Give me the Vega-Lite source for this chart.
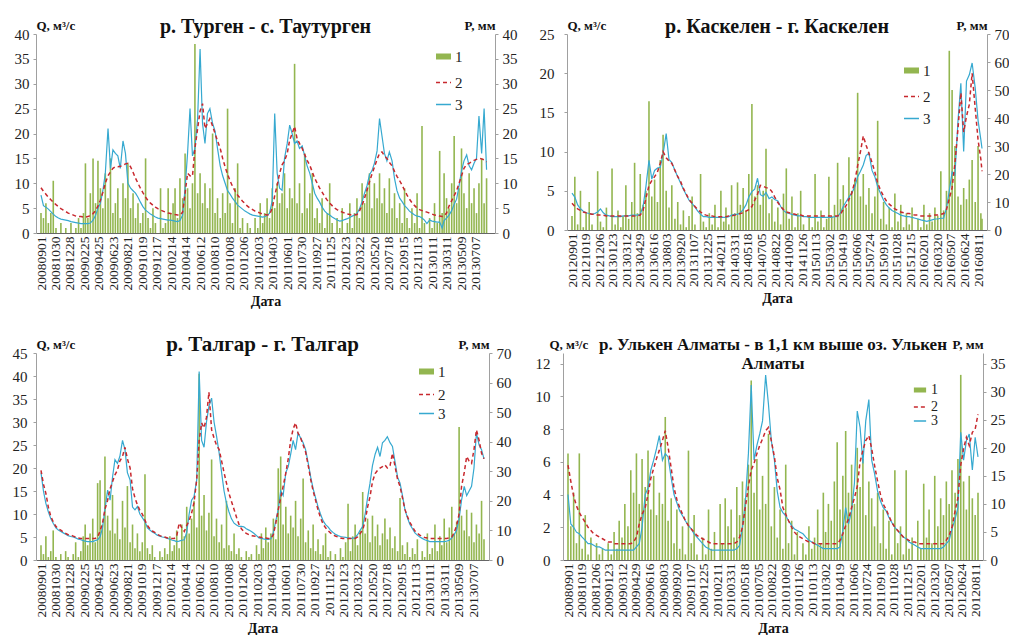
{
"$schema":"https://vega.github.io/schema/vega-lite/v6.json",
"padding":{"left":12,"top":17,"right":0,"bottom":0},
"config":{
"view":{"stroke":null},
"font":"Liberation Serif",
"title":{"font":"Liberation Serif","fontSize":20,"fontWeight":"bold","color":"#111","frame":"group","offset":-18},
"axis":{"grid":false,"labelFont":"Liberation Serif","titleFont":"Liberation Serif","labelColor":"#222","titleColor":"#111","domainColor":"#a0a0a0","tickColor":"#a0a0a0","tickSize":3,"labelFontSize":15,"labelOverlap":false},
"axisY":{"labelFont":"Liberation Serif","titleAngle":0,"titleFontWeight":"bold","titleFontSize":13,"titleBaseline":"alphabetic","titleY":-5,"labelPadding":4},
"axisLeft":{"labelFont":"Liberation Serif","titleAlign":"left","titleX":0},
"axisRight":{"labelFont":"Liberation Serif","titleAlign":"right","titleX":0},
"axisX":{"labelFont":"Liberation Serif","labelAngle":-90,"labelFontSize":13.5,"ticks":false,"domainColor":"#666","labelPadding":3,"titleFontWeight":"bold","titleFontSize":14,"titlePadding":4,"labelOverlap":false,"labelFlush":false},
"legend":{"labelFont":"Liberation Serif","labelFontSize":15,"labelColor":"#222","symbolType":"stroke","symbolSize":225}
},
"resolve":{"scale":{"color":"independent"},"legend":{"color":"independent"}},
"spacing":26,
"datasets":{
"t1":[
{"d":"2008-09-01","s":9.1,"o":7.6,"p":4},{"d":"2008-09-11","s":8.4,"o":5.5,"p":3},{"d":"2008-09-21","s":7.8,"o":5.2,"p":6},
{"d":"2008-10-01","s":7.2,"o":4.8,"p":2},{"d":"2008-10-11","s":6.7,"o":4.3,"p":4},{"d":"2008-10-21","s":6.2,"o":3.8,"p":10.5},
{"d":"2008-11-01","s":5.7,"o":3.3,"p":1},{"d":"2008-11-11","s":5.3,"o":3.0,"p":0},{"d":"2008-11-21","s":4.9,"o":2.8,"p":2},
{"d":"2008-12-01","s":4.6,"o":2.7,"p":0},{"d":"2008-12-11","s":4.3,"o":2.6,"p":1},{"d":"2008-12-21","s":4.0,"o":2.5,"p":0},
{"d":"2009-01-01","s":3.8,"o":2.3,"p":2},{"d":"2009-01-11","s":3.6,"o":2.2,"p":0},{"d":"2009-01-21","s":3.4,"o":2.1,"p":1},
{"d":"2009-02-01","s":3.3,"o":2.0,"p":3},{"d":"2009-02-11","s":3.3,"o":1.9,"p":1},{"d":"2009-02-21","s":3.2,"o":1.9,"p":4},
{"d":"2009-03-01","s":3.2,"o":1.9,"p":14},{"d":"2009-03-11","s":3.3,"o":1.9,"p":3},{"d":"2009-03-21","s":3.5,"o":2.0,"p":8},
{"d":"2009-04-01","s":3.9,"o":2.6,"p":15},{"d":"2009-04-11","s":4.5,"o":3.5,"p":6},{"d":"2009-04-21","s":5.4,"o":5.0,"p":14.5},
{"d":"2009-05-01","s":6.6,"o":6.0,"p":9},{"d":"2009-05-11","s":8.2,"o":8.5,"p":5},{"d":"2009-05-21","s":10.0,"o":12.0,"p":12},
{"d":"2009-06-01","s":11.5,"o":21.0,"p":7},{"d":"2009-06-11","s":12.3,"o":13.0,"p":15},{"d":"2009-06-21","s":13.0,"o":16.7,"p":4},
{"d":"2009-07-01","s":13.3,"o":16.0,"p":6},{"d":"2009-07-11","s":13.3,"o":15.5,"p":9},{"d":"2009-07-21","s":13.4,"o":13.0,"p":3},
{"d":"2009-08-01","s":13.6,"o":18.5,"p":10},{"d":"2009-08-11","s":13.9,"o":16.0,"p":7},{"d":"2009-08-21","s":14.0,"o":10.0,"p":14},
{"d":"2009-09-01","s":13.3,"o":9.0,"p":5},{"d":"2009-09-11","s":12.2,"o":8.5,"p":8},{"d":"2009-09-21","s":11.0,"o":8.0,"p":3},
{"d":"2009-10-01","s":10.0,"o":7.2,"p":6},{"d":"2009-10-11","s":9.0,"o":6.2,"p":2},{"d":"2009-10-21","s":8.1,"o":5.3,"p":4},
{"d":"2009-11-01","s":7.2,"o":4.6,"p":15},{"d":"2009-11-11","s":6.5,"o":4.2,"p":3},{"d":"2009-11-21","s":6.0,"o":3.8,"p":1},
{"d":"2009-12-01","s":5.6,"o":3.5,"p":5},{"d":"2009-12-11","s":5.2,"o":3.2,"p":2},{"d":"2009-12-21","s":4.9,"o":3.0,"p":0},
{"d":"2010-01-01","s":4.6,"o":2.9,"p":9},{"d":"2010-01-11","s":4.4,"o":2.8,"p":1},{"d":"2010-01-21","s":4.2,"o":2.7,"p":2},
{"d":"2010-02-01","s":4.0,"o":2.6,"p":9},{"d":"2010-02-11","s":3.9,"o":2.6,"p":4},{"d":"2010-02-21","s":3.8,"o":2.5,"p":6},
{"d":"2010-03-01","s":3.7,"o":2.4,"p":9},{"d":"2010-03-11","s":3.6,"o":2.3,"p":3},{"d":"2010-03-21","s":3.6,"o":2.5,"p":11},
{"d":"2010-04-01","s":4.2,"o":3.6,"p":7},{"d":"2010-04-11","s":8.0,"o":9.0,"p":16},{"d":"2010-04-21","s":12.0,"o":16.0,"p":9},
{"d":"2010-05-01","s":11.5,"o":25.0,"p":5},{"d":"2010-05-11","s":11.4,"o":15.5,"p":10},{"d":"2010-05-21","s":17.0,"o":17.0,"p":38},
{"d":"2010-06-01","s":21.0,"o":23.0,"p":8},{"d":"2010-06-11","s":24.5,"o":37.0,"p":12},{"d":"2010-06-21","s":26.0,"o":22.0,"p":6},
{"d":"2010-07-01","s":21.0,"o":18.0,"p":10},{"d":"2010-07-11","s":22.0,"o":24.0,"p":5},{"d":"2010-07-21","s":23.0,"o":25.0,"p":9},
{"d":"2010-08-01","s":21.5,"o":22.0,"p":20},{"d":"2010-08-11","s":20.0,"o":20.5,"p":4},{"d":"2010-08-21","s":18.5,"o":17.0,"p":7},
{"d":"2010-09-01","s":17.0,"o":13.5,"p":3},{"d":"2010-09-11","s":15.0,"o":11.5,"p":8},{"d":"2010-09-21","s":13.3,"o":10.0,"p":4},
{"d":"2010-10-01","s":11.8,"o":8.5,"p":25},{"d":"2010-10-11","s":10.5,"o":7.8,"p":6},{"d":"2010-10-21","s":9.4,"o":7.0,"p":2},
{"d":"2010-11-01","s":8.4,"o":6.3,"p":9},{"d":"2010-11-11","s":7.6,"o":5.6,"p":14},{"d":"2010-11-21","s":7.0,"o":5.2,"p":1},
{"d":"2010-12-01","s":6.4,"o":4.8,"p":3},{"d":"2010-12-11","s":5.9,"o":4.4,"p":0},{"d":"2010-12-21","s":5.4,"o":4.1,"p":2},
{"d":"2011-01-01","s":5.0,"o":3.8,"p":1},{"d":"2011-01-11","s":4.7,"o":3.6,"p":0},{"d":"2011-01-21","s":4.4,"o":3.5,"p":3},
{"d":"2011-02-01","s":4.2,"o":3.4,"p":1},{"d":"2011-02-11","s":4.0,"o":3.3,"p":6},{"d":"2011-02-21","s":3.8,"o":3.2,"p":2},
{"d":"2011-03-01","s":3.7,"o":3.3,"p":4},{"d":"2011-03-11","s":3.6,"o":3.5,"p":7},{"d":"2011-03-21","s":3.7,"o":4.0,"p":3},
{"d":"2011-04-01","s":5.0,"o":6.5,"p":9},{"d":"2011-04-11","s":7.5,"o":24.0,"p":5},{"d":"2011-04-21","s":9.6,"o":12.0,"p":10},
{"d":"2011-05-01","s":12.0,"o":9.0,"p":6},{"d":"2011-05-11","s":13.7,"o":8.6,"p":8},{"d":"2011-05-21","s":14.5,"o":15.0,"p":12},
{"d":"2011-06-01","s":16.0,"o":18.0,"p":5},{"d":"2011-06-11","s":18.7,"o":21.7,"p":9},{"d":"2011-06-21","s":20.0,"o":20.0,"p":7},
{"d":"2011-07-01","s":21.4,"o":18.0,"p":34},{"d":"2011-07-11","s":19.0,"o":18.5,"p":6},{"d":"2011-07-21","s":18.0,"o":17.0,"p":10},
{"d":"2011-08-01","s":17.0,"o":17.5,"p":4},{"d":"2011-08-11","s":15.8,"o":15.5,"p":16},{"d":"2011-08-21","s":14.6,"o":13.5,"p":5},
{"d":"2011-09-01","s":13.6,"o":12.0,"p":8},{"d":"2011-09-11","s":12.3,"o":10.0,"p":12},{"d":"2011-09-21","s":11.0,"o":8.0,"p":3},
{"d":"2011-10-01","s":10.0,"o":7.0,"p":5},{"d":"2011-10-11","s":9.0,"o":6.2,"p":2},{"d":"2011-10-21","s":8.2,"o":5.2,"p":7},
{"d":"2011-11-01","s":7.3,"o":4.4,"p":1},{"d":"2011-11-11","s":6.6,"o":3.9,"p":4},{"d":"2011-11-21","s":6.0,"o":3.6,"p":10},
{"d":"2011-12-01","s":5.5,"o":3.2,"p":2},{"d":"2011-12-11","s":5.0,"o":2.9,"p":0},{"d":"2011-12-21","s":4.7,"o":2.6,"p":3},
{"d":"2012-01-01","s":4.4,"o":2.4,"p":1},{"d":"2012-01-11","s":4.2,"o":2.5,"p":5},{"d":"2012-01-21","s":4.0,"o":2.7,"p":0},
{"d":"2012-02-01","s":3.8,"o":2.9,"p":2},{"d":"2012-02-11","s":3.7,"o":3.1,"p":6},{"d":"2012-02-21","s":3.6,"o":3.4,"p":1},
{"d":"2012-03-01","s":3.6,"o":3.6,"p":4},{"d":"2012-03-11","s":3.7,"o":3.9,"p":7},{"d":"2012-03-21","s":4.4,"o":4.8,"p":3},
{"d":"2012-04-01","s":5.6,"o":6.3,"p":10},{"d":"2012-04-11","s":7.0,"o":8.0,"p":6},{"d":"2012-04-21","s":8.6,"o":9.5,"p":9},
{"d":"2012-05-01","s":10.3,"o":11.7,"p":12},{"d":"2012-05-11","s":11.8,"o":12.5,"p":5},{"d":"2012-05-21","s":13.2,"o":14.0,"p":10},
{"d":"2012-06-01","s":14.8,"o":16.5,"p":7},{"d":"2012-06-11","s":16.0,"o":23.0,"p":12},{"d":"2012-06-21","s":16.3,"o":19.5,"p":6},
{"d":"2012-07-01","s":15.5,"o":16.0,"p":9},{"d":"2012-07-11","s":15.0,"o":14.5,"p":4},{"d":"2012-07-21","s":14.2,"o":16.3,"p":11},
{"d":"2012-08-01","s":13.5,"o":14.5,"p":5},{"d":"2012-08-11","s":12.4,"o":11.0,"p":8},{"d":"2012-08-21","s":11.4,"o":8.5,"p":3},
{"d":"2012-09-01","s":10.5,"o":7.0,"p":6},{"d":"2012-09-11","s":9.6,"o":6.3,"p":2},{"d":"2012-09-21","s":8.6,"o":5.5,"p":9},
{"d":"2012-10-01","s":7.6,"o":5.0,"p":3},{"d":"2012-10-11","s":6.8,"o":4.4,"p":1},{"d":"2012-10-21","s":6.1,"o":4.0,"p":5},
{"d":"2012-11-01","s":5.5,"o":3.6,"p":2},{"d":"2012-11-11","s":5.0,"o":3.4,"p":8},{"d":"2012-11-21","s":4.7,"o":3.3,"p":1},
{"d":"2012-12-01","s":4.5,"o":3.0,"p":21.5},{"d":"2012-12-11","s":4.3,"o":2.6,"p":2},{"d":"2012-12-21","s":4.2,"o":1.9,"p":0},
{"d":"2013-01-01","s":4.0,"o":2.6,"p":3},{"d":"2013-01-11","s":3.8,"o":2.4,"p":1},{"d":"2013-01-21","s":3.6,"o":2.3,"p":6},
{"d":"2013-02-01","s":3.5,"o":2.2,"p":2},{"d":"2013-02-11","s":3.4,"o":2.2,"p":16.5},{"d":"2013-02-21","s":3.3,"o":1.0,"p":4},
{"d":"2013-03-01","s":3.4,"o":2.5,"p":12},{"d":"2013-03-11","s":4.0,"o":3.0,"p":7},{"d":"2013-03-21","s":5.4,"o":3.6,"p":5},
{"d":"2013-04-01","s":6.5,"o":4.5,"p":10},{"d":"2013-04-11","s":7.5,"o":5.8,"p":19.5},{"d":"2013-04-21","s":8.5,"o":6.8,"p":6},
{"d":"2013-05-01","s":10.0,"o":9.5,"p":9},{"d":"2013-05-11","s":11.5,"o":12.5,"p":17},{"d":"2013-05-21","s":13.0,"o":14.5,"p":8},
{"d":"2013-06-01","s":13.8,"o":15.7,"p":5},{"d":"2013-06-11","s":14.0,"o":13.5,"p":12},{"d":"2013-06-21","s":14.3,"o":12.7,"p":6},
{"d":"2013-07-01","s":14.6,"o":14.0,"p":9},{"d":"2013-07-11","s":14.8,"o":15.0,"p":4},{"d":"2013-07-21","s":15.0,"o":23.5,"p":10},
{"d":"2013-08-01","s":14.9,"o":16.0,"p":15},{"d":"2013-08-11","s":14.7,"o":25.0,"p":6},{"d":"2013-08-21","s":14.3,"o":12.7,"p":11}
],
"t2":[
{"d":"2012-09-01","s":3.4,"o":4.7,"p":5},{"d":"2012-09-11","s":3.0,"o":4.2,"p":19},{"d":"2012-09-21","s":2.7,"o":3.2,"p":2},
{"d":"2012-10-01","s":2.5,"o":2.7,"p":14},{"d":"2012-10-11","s":2.3,"o":2.4,"p":1},{"d":"2012-10-21","s":2.2,"o":2.2,"p":6},
{"d":"2012-11-01","s":2.1,"o":2.1,"p":10},{"d":"2012-11-11","s":2.0,"o":2.0,"p":2},{"d":"2012-11-21","s":2.0,"o":2.1,"p":0},
{"d":"2012-12-01","s":1.9,"o":2.3,"p":21},{"d":"2012-12-11","s":1.9,"o":2.7,"p":3},{"d":"2012-12-21","s":1.9,"o":2.2,"p":1},
{"d":"2013-01-01","s":1.8,"o":1.9,"p":8},{"d":"2013-01-11","s":1.8,"o":1.8,"p":0},{"d":"2013-01-21","s":1.8,"o":1.7,"p":22},
{"d":"2013-02-01","s":1.8,"o":1.7,"p":2},{"d":"2013-02-11","s":1.8,"o":1.7,"p":7},{"d":"2013-02-21","s":1.8,"o":1.7,"p":1},
{"d":"2013-03-01","s":1.8,"o":1.8,"p":5},{"d":"2013-03-11","s":1.8,"o":1.8,"p":16},{"d":"2013-03-21","s":1.8,"o":1.8,"p":4},
{"d":"2013-04-01","s":1.8,"o":1.9,"p":10},{"d":"2013-04-11","s":1.8,"o":1.9,"p":24},{"d":"2013-04-21","s":1.8,"o":1.9,"p":6},
{"d":"2013-05-01","s":1.9,"o":2.0,"p":20},{"d":"2013-05-11","s":2.5,"o":3.0,"p":9},{"d":"2013-05-21","s":4.0,"o":5.5,"p":14},
{"d":"2013-06-01","s":5.7,"o":8.9,"p":46},{"d":"2013-06-11","s":6.3,"o":6.5,"p":12},{"d":"2013-06-21","s":6.8,"o":7.6,"p":18},
{"d":"2013-07-01","s":7.4,"o":7.9,"p":10},{"d":"2013-07-11","s":8.5,"o":8.0,"p":25},{"d":"2013-07-21","s":10.0,"o":9.7,"p":34},
{"d":"2013-08-01","s":9.2,"o":12.3,"p":14},{"d":"2013-08-11","s":8.8,"o":9.0,"p":8},{"d":"2013-08-21","s":8.5,"o":8.6,"p":16},
{"d":"2013-09-01","s":7.6,"o":7.6,"p":4},{"d":"2013-09-11","s":6.8,"o":6.8,"p":10},{"d":"2013-09-21","s":6.2,"o":6.0,"p":2},
{"d":"2013-10-01","s":5.3,"o":5.2,"p":7},{"d":"2013-10-11","s":4.6,"o":4.5,"p":1},{"d":"2013-10-21","s":3.9,"o":3.8,"p":5},
{"d":"2013-11-01","s":3.4,"o":3.4,"p":12},{"d":"2013-11-11","s":3.0,"o":2.9,"p":2},{"d":"2013-11-21","s":2.6,"o":2.4,"p":0},
{"d":"2013-12-01","s":2.3,"o":2.0,"p":20},{"d":"2013-12-11","s":2.0,"o":1.7,"p":3},{"d":"2013-12-21","s":1.9,"o":1.7,"p":1},
{"d":"2014-01-01","s":1.8,"o":1.6,"p":6},{"d":"2014-01-11","s":1.8,"o":1.6,"p":2},{"d":"2014-01-21","s":1.7,"o":1.6,"p":9},
{"d":"2014-02-01","s":1.7,"o":1.6,"p":1},{"d":"2014-02-11","s":1.7,"o":1.6,"p":14},{"d":"2014-02-21","s":1.7,"o":1.6,"p":3},
{"d":"2014-03-01","s":1.7,"o":1.6,"p":8},{"d":"2014-03-11","s":1.8,"o":1.7,"p":2},{"d":"2014-03-21","s":1.8,"o":1.9,"p":16},
{"d":"2014-04-01","s":1.9,"o":2.0,"p":6},{"d":"2014-04-11","s":2.0,"o":2.0,"p":17},{"d":"2014-04-21","s":2.1,"o":2.2,"p":9},
{"d":"2014-05-01","s":2.2,"o":2.6,"p":15},{"d":"2014-05-11","s":2.4,"o":3.2,"p":7},{"d":"2014-05-21","s":2.6,"o":4.2,"p":20},
{"d":"2014-06-01","s":3.0,"o":4.9,"p":45},{"d":"2014-06-11","s":3.8,"o":5.2,"p":12},{"d":"2014-06-21","s":4.6,"o":6.6,"p":16},
{"d":"2014-07-01","s":5.7,"o":4.5,"p":9},{"d":"2014-07-11","s":5.6,"o":4.3,"p":14},{"d":"2014-07-21","s":5.4,"o":4.8,"p":29},
{"d":"2014-08-01","s":5.3,"o":4.0,"p":6},{"d":"2014-08-11","s":4.9,"o":4.2,"p":11},{"d":"2014-08-21","s":4.2,"o":3.9,"p":3},
{"d":"2014-09-01","s":3.5,"o":3.7,"p":8},{"d":"2014-09-11","s":3.0,"o":3.0,"p":2},{"d":"2014-09-21","s":2.6,"o":2.5,"p":13},
{"d":"2014-10-01","s":2.3,"o":2.2,"p":22},{"d":"2014-10-11","s":2.2,"o":2.1,"p":4},{"d":"2014-10-21","s":2.1,"o":2.0,"p":12},
{"d":"2014-11-01","s":2.0,"o":1.9,"p":1},{"d":"2014-11-11","s":1.9,"o":1.8,"p":6},{"d":"2014-11-21","s":1.9,"o":1.8,"p":14},
{"d":"2014-12-01","s":1.8,"o":1.7,"p":2},{"d":"2014-12-11","s":1.8,"o":1.7,"p":0},{"d":"2014-12-21","s":1.8,"o":1.6,"p":5},
{"d":"2015-01-01","s":1.8,"o":1.6,"p":1},{"d":"2015-01-11","s":1.8,"o":1.6,"p":20},{"d":"2015-01-21","s":1.8,"o":1.6,"p":3},
{"d":"2015-02-01","s":1.8,"o":1.6,"p":7},{"d":"2015-02-11","s":1.8,"o":1.6,"p":1},{"d":"2015-02-21","s":1.8,"o":1.6,"p":4},
{"d":"2015-03-01","s":1.8,"o":1.6,"p":19},{"d":"2015-03-11","s":1.8,"o":1.6,"p":5},{"d":"2015-03-21","s":1.8,"o":1.7,"p":9},
{"d":"2015-04-01","s":1.8,"o":1.7,"p":24},{"d":"2015-04-11","s":2.0,"o":2.2,"p":11},{"d":"2015-04-21","s":2.6,"o":3.0,"p":16},
{"d":"2015-05-01","s":3.1,"o":3.6,"p":8},{"d":"2015-05-11","s":3.9,"o":4.2,"p":26},{"d":"2015-05-21","s":4.7,"o":4.7,"p":14},
{"d":"2015-06-01","s":6.2,"o":5.5,"p":18},{"d":"2015-06-11","s":8.2,"o":6.8,"p":49},{"d":"2015-06-21","s":10.0,"o":7.5,"p":12},
{"d":"2015-07-01","s":12.0,"o":8.3,"p":20},{"d":"2015-07-11","s":10.8,"o":9.5,"p":9},{"d":"2015-07-21","s":9.8,"o":9.8,"p":15},
{"d":"2015-08-01","s":8.6,"o":7.6,"p":6},{"d":"2015-08-11","s":7.4,"o":6.8,"p":12},{"d":"2015-08-21","s":6.0,"o":5.5,"p":39},
{"d":"2015-09-01","s":5.0,"o":4.6,"p":4},{"d":"2015-09-11","s":4.3,"o":3.8,"p":10},{"d":"2015-09-21","s":3.7,"o":3.2,"p":2},
{"d":"2015-10-01","s":3.3,"o":2.8,"p":8},{"d":"2015-10-11","s":3.0,"o":2.5,"p":1},{"d":"2015-10-21","s":2.7,"o":2.3,"p":13},
{"d":"2015-11-01","s":2.5,"o":2.1,"p":3},{"d":"2015-11-11","s":2.3,"o":1.9,"p":9},{"d":"2015-11-21","s":2.2,"o":1.8,"p":1},
{"d":"2015-12-01","s":2.1,"o":1.7,"p":6},{"d":"2015-12-11","s":2.1,"o":1.7,"p":2},{"d":"2015-12-21","s":2.0,"o":1.6,"p":8},
{"d":"2016-01-01","s":1.9,"o":1.5,"p":0},{"d":"2016-01-11","s":1.9,"o":1.4,"p":4},{"d":"2016-01-21","s":1.8,"o":1.3,"p":1},
{"d":"2016-02-01","s":1.8,"o":1.2,"p":9},{"d":"2016-02-11","s":1.8,"o":1.1,"p":2},{"d":"2016-02-21","s":1.8,"o":1.2,"p":6},
{"d":"2016-03-01","s":1.8,"o":1.3,"p":3},{"d":"2016-03-11","s":1.9,"o":1.4,"p":8},{"d":"2016-03-21","s":1.9,"o":1.4,"p":5},
{"d":"2016-04-01","s":2.0,"o":1.5,"p":21},{"d":"2016-04-11","s":2.1,"o":1.5,"p":7},{"d":"2016-04-21","s":2.6,"o":2.8,"p":14},
{"d":"2016-05-01","s":4.0,"o":5.0,"p":64},{"d":"2016-05-11","s":5.4,"o":7.4,"p":50},{"d":"2016-05-21","s":8.5,"o":7.0,"p":30},
{"d":"2016-06-01","s":13.0,"o":14.0,"p":12},{"d":"2016-06-11","s":17.5,"o":18.7,"p":9},{"d":"2016-06-21","s":12.5,"o":10.0,"p":15},
{"d":"2016-07-01","s":14.5,"o":19.0,"p":11},{"d":"2016-07-11","s":16.0,"o":19.8,"p":18},{"d":"2016-07-21","s":20.0,"o":21.3,"p":25},
{"d":"2016-08-01","s":15.5,"o":18.1,"p":10},{"d":"2016-08-11","s":11.5,"o":14.0,"p":30},{"d":"2016-08-21","s":9.0,"o":11.5,"p":6},
{"d":"2016-08-25","s":7.5,"o":10.4,"p":4}
],
"t3":[
{"d":"2008-09-01","s":19.5,"o":19.0,"p":5},{"d":"2008-09-11","s":16.5,"o":15.0,"p":2},{"d":"2008-09-21","s":14.5,"o":12.3,"p":8},
{"d":"2008-10-01","s":11.5,"o":10.5,"p":1},{"d":"2008-10-11","s":9.5,"o":9.0,"p":3},{"d":"2008-10-21","s":8.3,"o":8.0,"p":10},
{"d":"2008-11-01","s":7.3,"o":7.0,"p":1},{"d":"2008-11-11","s":6.8,"o":6.5,"p":0},{"d":"2008-11-21","s":6.5,"o":6.2,"p":2},
{"d":"2008-12-01","s":6.1,"o":5.9,"p":0},{"d":"2008-12-11","s":5.8,"o":5.6,"p":3},{"d":"2008-12-21","s":5.5,"o":5.3,"p":1},
{"d":"2009-01-01","s":5.4,"o":5.1,"p":0},{"d":"2009-01-11","s":5.2,"o":5.0,"p":2},{"d":"2009-01-21","s":5.0,"o":4.8,"p":6},
{"d":"2009-02-01","s":4.8,"o":4.5,"p":1},{"d":"2009-02-11","s":4.7,"o":4.4,"p":3},{"d":"2009-02-21","s":4.7,"o":4.2,"p":8},
{"d":"2009-03-01","s":4.7,"o":4.1,"p":12},{"d":"2009-03-11","s":4.7,"o":4.0,"p":5},{"d":"2009-03-21","s":4.7,"o":4.0,"p":9},
{"d":"2009-04-01","s":4.7,"o":4.0,"p":14},{"d":"2009-04-11","s":4.7,"o":4.2,"p":6},{"d":"2009-04-21","s":5.0,"o":4.4,"p":26},
{"d":"2009-05-01","s":6.3,"o":5.0,"p":27},{"d":"2009-05-11","s":8.0,"o":7.0,"p":12},{"d":"2009-05-21","s":11.0,"o":11.0,"p":35},
{"d":"2009-06-01","s":13.0,"o":15.2,"p":15},{"d":"2009-06-11","s":15.5,"o":13.0,"p":10},{"d":"2009-06-21","s":17.0,"o":18.0,"p":22},
{"d":"2009-07-01","s":18.5,"o":21.8,"p":9},{"d":"2009-07-11","s":19.5,"o":21.0,"p":14},{"d":"2009-07-21","s":21.5,"o":22.5,"p":7},
{"d":"2009-08-01","s":22.5,"o":26.0,"p":20},{"d":"2009-08-11","s":24.5,"o":24.0,"p":11},{"d":"2009-08-21","s":22.0,"o":19.0,"p":25},
{"d":"2009-09-01","s":20.0,"o":17.4,"p":6},{"d":"2009-09-11","s":15.5,"o":11.5,"p":12},{"d":"2009-09-21","s":13.5,"o":10.9,"p":4},
{"d":"2009-10-01","s":12.0,"o":11.6,"p":9},{"d":"2009-10-11","s":10.8,"o":10.0,"p":3},{"d":"2009-10-21","s":10.0,"o":9.2,"p":6},
{"d":"2009-11-01","s":8.6,"o":8.3,"p":29},{"d":"2009-11-11","s":7.5,"o":7.0,"p":4},{"d":"2009-11-21","s":6.8,"o":6.5,"p":2},
{"d":"2009-12-01","s":6.3,"o":6.1,"p":5},{"d":"2009-12-11","s":6.0,"o":5.8,"p":1},{"d":"2009-12-21","s":5.6,"o":5.4,"p":0},
{"d":"2010-01-01","s":5.3,"o":5.2,"p":3},{"d":"2010-01-11","s":5.1,"o":5.0,"p":1},{"d":"2010-01-21","s":5.0,"o":4.9,"p":4},
{"d":"2010-02-01","s":4.8,"o":4.7,"p":2},{"d":"2010-02-11","s":4.7,"o":4.5,"p":8},{"d":"2010-02-21","s":4.7,"o":4.3,"p":3},
{"d":"2010-03-01","s":4.7,"o":4.2,"p":5},{"d":"2010-03-11","s":5.2,"o":4.0,"p":10},{"d":"2010-03-21","s":8.0,"o":4.1,"p":4},
{"d":"2010-04-01","s":7.0,"o":4.3,"p":12},{"d":"2010-04-11","s":6.2,"o":4.4,"p":8},{"d":"2010-04-21","s":7.5,"o":6.0,"p":18},
{"d":"2010-05-01","s":8.5,"o":10.0,"p":9},{"d":"2010-05-11","s":10.2,"o":13.0,"p":14},{"d":"2010-05-21","s":12.5,"o":13.8,"p":20},
{"d":"2010-06-01","s":17.5,"o":17.4,"p":11},{"d":"2010-06-11","s":26.0,"o":41.0,"p":63},{"d":"2010-06-21","s":29.8,"o":26.0,"p":15},
{"d":"2010-07-01","s":28.7,"o":24.5,"p":22},{"d":"2010-07-11","s":31.0,"o":30.0,"p":10},{"d":"2010-07-21","s":36.5,"o":33.4,"p":16},
{"d":"2010-08-01","s":28.3,"o":35.2,"p":34},{"d":"2010-08-11","s":26.5,"o":30.0,"p":8},{"d":"2010-08-21","s":25.0,"o":27.0,"p":14},
{"d":"2010-09-01","s":24.0,"o":23.2,"p":6},{"d":"2010-09-11","s":21.5,"o":19.0,"p":12},{"d":"2010-09-21","s":19.0,"o":15.0,"p":4},
{"d":"2010-10-01","s":16.7,"o":12.3,"p":20},{"d":"2010-10-11","s":14.5,"o":10.5,"p":5},{"d":"2010-10-21","s":12.8,"o":9.0,"p":3},
{"d":"2010-11-01","s":11.0,"o":8.0,"p":9},{"d":"2010-11-11","s":9.3,"o":7.6,"p":2},{"d":"2010-11-21","s":7.8,"o":7.3,"p":4},
{"d":"2010-12-01","s":6.8,"o":7.3,"p":1},{"d":"2010-12-11","s":6.2,"o":7.2,"p":0},{"d":"2010-12-21","s":5.8,"o":6.8,"p":3},
{"d":"2011-01-01","s":5.5,"o":6.5,"p":1},{"d":"2011-01-11","s":5.3,"o":6.2,"p":2},{"d":"2011-01-21","s":5.2,"o":5.8,"p":0},
{"d":"2011-02-01","s":5.1,"o":5.3,"p":5},{"d":"2011-02-11","s":5.0,"o":4.8,"p":2},{"d":"2011-02-21","s":4.9,"o":4.7,"p":9},
{"d":"2011-03-01","s":4.8,"o":4.6,"p":4},{"d":"2011-03-11","s":4.8,"o":4.5,"p":11},{"d":"2011-03-21","s":4.7,"o":4.5,"p":6},
{"d":"2011-04-01","s":4.7,"o":4.6,"p":9},{"d":"2011-04-11","s":5.5,"o":6.0,"p":14},{"d":"2011-04-21","s":8.0,"o":8.5,"p":7},
{"d":"2011-05-01","s":10.9,"o":11.0,"p":31},{"d":"2011-05-11","s":13.5,"o":15.0,"p":35},{"d":"2011-05-21","s":16.0,"o":14.0,"p":12},
{"d":"2011-06-01","s":18.9,"o":19.0,"p":18},{"d":"2011-06-11","s":22.0,"o":20.3,"p":9},{"d":"2011-06-21","s":26.0,"o":23.0,"p":15},
{"d":"2011-07-01","s":28.5,"o":26.0,"p":11},{"d":"2011-07-11","s":29.8,"o":24.0,"p":20},{"d":"2011-07-21","s":27.6,"o":27.6,"p":8},
{"d":"2011-08-01","s":26.5,"o":26.5,"p":14},{"d":"2011-08-11","s":25.0,"o":25.5,"p":27.6},{"d":"2011-08-21","s":23.5,"o":24.0,"p":6},
{"d":"2011-09-01","s":20.5,"o":21.0,"p":10},{"d":"2011-09-11","s":17.5,"o":18.0,"p":4},{"d":"2011-09-21","s":15.0,"o":15.5,"p":12},
{"d":"2011-10-01","s":13.0,"o":13.5,"p":3},{"d":"2011-10-11","s":10.9,"o":11.6,"p":7},{"d":"2011-10-21","s":9.2,"o":10.0,"p":2},
{"d":"2011-11-01","s":7.8,"o":8.5,"p":5},{"d":"2011-11-11","s":7.0,"o":7.7,"p":9},{"d":"2011-11-21","s":6.4,"o":7.2,"p":1},
{"d":"2011-12-01","s":5.9,"o":6.5,"p":3},{"d":"2011-12-11","s":5.5,"o":6.0,"p":0},{"d":"2011-12-21","s":5.2,"o":5.6,"p":2},
{"d":"2012-01-01","s":5.0,"o":5.3,"p":0},{"d":"2012-01-11","s":4.8,"o":5.1,"p":4},{"d":"2012-01-21","s":4.7,"o":5.0,"p":1},
{"d":"2012-02-01","s":4.7,"o":4.9,"p":6},{"d":"2012-02-11","s":4.7,"o":4.8,"p":19},{"d":"2012-02-21","s":4.7,"o":4.7,"p":3},
{"d":"2012-03-01","s":4.7,"o":4.7,"p":8},{"d":"2012-03-11","s":4.7,"o":4.9,"p":12},{"d":"2012-03-21","s":5.0,"o":5.5,"p":5},
{"d":"2012-04-01","s":5.8,"o":6.5,"p":10},{"d":"2012-04-11","s":6.5,"o":7.3,"p":23},{"d":"2012-04-21","s":8.5,"o":10.0,"p":9},
{"d":"2012-05-01","s":11.5,"o":13.5,"p":14},{"d":"2012-05-11","s":13.8,"o":16.7,"p":6},{"d":"2012-05-21","s":17.0,"o":20.5,"p":15},
{"d":"2012-06-01","s":18.8,"o":23.0,"p":8},{"d":"2012-06-11","s":19.5,"o":24.5,"p":12},{"d":"2012-06-21","s":20.0,"o":22.5,"p":5},
{"d":"2012-07-01","s":20.3,"o":25.5,"p":9},{"d":"2012-07-11","s":20.7,"o":26.0,"p":14},{"d":"2012-07-21","s":20.0,"o":26.8,"p":7},
{"d":"2012-08-01","s":20.5,"o":25.5,"p":11},{"d":"2012-08-11","s":23.2,"o":24.7,"p":4},{"d":"2012-08-21","s":20.5,"o":21.5,"p":8},
{"d":"2012-09-01","s":17.5,"o":18.0,"p":3},{"d":"2012-09-11","s":16.0,"o":16.7,"p":21},{"d":"2012-09-21","s":13.5,"o":14.0,"p":5},
{"d":"2012-10-01","s":11.0,"o":11.0,"p":2},{"d":"2012-10-11","s":9.5,"o":9.2,"p":6},{"d":"2012-10-21","s":8.2,"o":7.8,"p":1},
{"d":"2012-11-01","s":7.2,"o":6.8,"p":4},{"d":"2012-11-11","s":6.3,"o":5.9,"p":2},{"d":"2012-11-21","s":5.8,"o":5.4,"p":7},
{"d":"2012-12-01","s":5.4,"o":5.0,"p":0},{"d":"2012-12-11","s":5.1,"o":4.7,"p":3},{"d":"2012-12-21","s":4.9,"o":4.4,"p":1},
{"d":"2013-01-01","s":4.8,"o":4.2,"p":9},{"d":"2013-01-11","s":4.7,"o":4.0,"p":2},{"d":"2013-01-21","s":4.7,"o":4.0,"p":4},
{"d":"2013-02-01","s":4.7,"o":4.0,"p":12},{"d":"2013-02-11","s":4.7,"o":4.0,"p":3},{"d":"2013-02-21","s":4.7,"o":4.0,"p":8},
{"d":"2013-03-01","s":4.7,"o":4.0,"p":5},{"d":"2013-03-11","s":4.7,"o":4.0,"p":14},{"d":"2013-03-21","s":4.7,"o":4.1,"p":6},
{"d":"2013-04-01","s":4.8,"o":4.3,"p":11},{"d":"2013-04-11","s":5.0,"o":4.8,"p":18},{"d":"2013-04-21","s":6.0,"o":5.5,"p":9},
{"d":"2013-05-01","s":7.5,"o":6.5,"p":13},{"d":"2013-05-11","s":10.0,"o":9.0,"p":45},{"d":"2013-05-21","s":16.0,"o":13.0,"p":15},
{"d":"2013-06-01","s":19.0,"o":16.0,"p":10},{"d":"2013-06-11","s":22.5,"o":14.0,"p":17},{"d":"2013-06-21","s":21.5,"o":15.0,"p":8},
{"d":"2013-07-01","s":21.0,"o":16.0,"p":16},{"d":"2013-07-11","s":24.0,"o":20.0,"p":6},{"d":"2013-07-21","s":28.3,"o":27.6,"p":12},
{"d":"2013-08-01","s":26.0,"o":25.0,"p":9},{"d":"2013-08-11","s":23.2,"o":24.0,"p":20},{"d":"2013-08-21","s":22.0,"o":22.0,"p":7}
],
"t4":[
{"d":"2008-09-01","s":5.8,"o":4.0,"p":19},{"d":"2008-09-11","s":4.8,"o":2.2,"p":6},{"d":"2008-09-21","s":3.9,"o":2.0,"p":12},
{"d":"2008-10-01","s":3.3,"o":1.7,"p":3},{"d":"2008-10-11","s":2.9,"o":1.6,"p":19},{"d":"2008-10-21","s":2.6,"o":1.4,"p":2},
{"d":"2008-11-01","s":2.3,"o":1.2,"p":8},{"d":"2008-11-11","s":2.0,"o":1.0,"p":1},{"d":"2008-11-21","s":1.8,"o":1.0,"p":4},
{"d":"2008-12-01","s":1.6,"o":0.9,"p":0},{"d":"2008-12-11","s":1.5,"o":0.8,"p":3},{"d":"2008-12-21","s":1.4,"o":0.8,"p":1},
{"d":"2009-01-01","s":1.3,"o":0.7,"p":2},{"d":"2009-01-11","s":1.2,"o":0.6,"p":0},{"d":"2009-01-21","s":1.1,"o":0.6,"p":3},
{"d":"2009-02-01","s":1.1,"o":0.6,"p":1},{"d":"2009-02-11","s":1.0,"o":0.6,"p":5},{"d":"2009-02-21","s":1.0,"o":0.6,"p":2},
{"d":"2009-03-01","s":1.0,"o":0.6,"p":7},{"d":"2009-03-11","s":1.0,"o":0.6,"p":4},{"d":"2009-03-21","s":1.0,"o":0.6,"p":10},
{"d":"2009-04-01","s":1.0,"o":0.6,"p":6},{"d":"2009-04-11","s":1.0,"o":0.6,"p":16},{"d":"2009-04-21","s":1.1,"o":0.6,"p":12},
{"d":"2009-05-01","s":1.4,"o":0.8,"p":19},{"d":"2009-05-11","s":2.2,"o":1.0,"p":10},{"d":"2009-05-21","s":2.8,"o":2.0,"p":18},
{"d":"2009-06-01","s":3.2,"o":4.0,"p":13},{"d":"2009-06-11","s":4.0,"o":4.4,"p":19.5},{"d":"2009-06-21","s":5.0,"o":5.5,"p":9},
{"d":"2009-07-01","s":5.6,"o":6.1,"p":15},{"d":"2009-07-11","s":6.2,"o":6.8,"p":8},{"d":"2009-07-21","s":6.7,"o":7.6,"p":12},
{"d":"2009-08-01","s":7.3,"o":6.1,"p":10},{"d":"2009-08-11","s":7.9,"o":6.5,"p":25.5},{"d":"2009-08-21","s":6.9,"o":6.3,"p":7},
{"d":"2009-09-01","s":5.6,"o":5.0,"p":11},{"d":"2009-09-11","s":4.4,"o":4.0,"p":3},{"d":"2009-09-21","s":3.7,"o":3.5,"p":9},
{"d":"2009-10-01","s":3.2,"o":3.0,"p":2},{"d":"2009-10-11","s":2.8,"o":2.7,"p":6},{"d":"2009-10-21","s":2.4,"o":2.4,"p":1},
{"d":"2009-11-01","s":2.1,"o":2.1,"p":19.5},{"d":"2009-11-11","s":1.9,"o":1.9,"p":3},{"d":"2009-11-21","s":1.7,"o":1.6,"p":8},
{"d":"2009-12-01","s":1.5,"o":1.4,"p":1},{"d":"2009-12-11","s":1.4,"o":1.2,"p":0},{"d":"2009-12-21","s":1.3,"o":1.0,"p":4},
{"d":"2010-01-01","s":1.2,"o":0.8,"p":1},{"d":"2010-01-11","s":1.1,"o":0.7,"p":9},{"d":"2010-01-21","s":1.0,"o":0.6,"p":2},
{"d":"2010-02-01","s":1.0,"o":0.6,"p":5},{"d":"2010-02-11","s":1.0,"o":0.6,"p":0},{"d":"2010-02-21","s":1.0,"o":0.6,"p":10},
{"d":"2010-03-01","s":1.0,"o":0.6,"p":3},{"d":"2010-03-11","s":1.0,"o":0.6,"p":11},{"d":"2010-03-21","s":1.0,"o":0.6,"p":6},
{"d":"2010-04-01","s":1.0,"o":0.6,"p":9},{"d":"2010-04-11","s":1.0,"o":0.6,"p":4},{"d":"2010-04-21","s":1.1,"o":0.7,"p":13},
{"d":"2010-05-01","s":1.4,"o":0.9,"p":8},{"d":"2010-05-11","s":2.0,"o":2.0,"p":14},{"d":"2010-05-21","s":3.2,"o":3.5,"p":11},
{"d":"2010-06-01","s":4.5,"o":6.5,"p":17},{"d":"2010-06-11","s":5.5,"o":10.7,"p":32},{"d":"2010-06-21","s":5.9,"o":6.1,"p":12},
{"d":"2010-07-01","s":6.5,"o":7.0,"p":18},{"d":"2010-07-11","s":7.0,"o":7.7,"p":9},{"d":"2010-07-21","s":7.4,"o":8.5,"p":15},
{"d":"2010-08-01","s":7.9,"o":11.3,"p":10},{"d":"2010-08-11","s":8.1,"o":9.5,"p":22.5},{"d":"2010-08-21","s":7.3,"o":7.3,"p":6},
{"d":"2010-09-01","s":6.3,"o":6.1,"p":13},{"d":"2010-09-11","s":5.0,"o":4.2,"p":4},{"d":"2010-09-21","s":4.3,"o":3.2,"p":9},
{"d":"2010-10-01","s":3.2,"o":2.9,"p":2},{"d":"2010-10-11","s":2.8,"o":2.7,"p":17},{"d":"2010-10-21","s":2.4,"o":2.4,"p":3},
{"d":"2010-11-01","s":2.0,"o":2.1,"p":7},{"d":"2010-11-11","s":1.7,"o":1.9,"p":1},{"d":"2010-11-21","s":1.5,"o":1.8,"p":5},
{"d":"2010-12-01","s":1.4,"o":1.7,"p":0},{"d":"2010-12-11","s":1.3,"o":1.6,"p":3},{"d":"2010-12-21","s":1.2,"o":1.4,"p":1},
{"d":"2011-01-01","s":1.1,"o":1.2,"p":6},{"d":"2011-01-11","s":1.1,"o":1.1,"p":2},{"d":"2011-01-21","s":1.0,"o":1.0,"p":4},
{"d":"2011-02-01","s":1.0,"o":0.9,"p":9},{"d":"2011-02-11","s":1.0,"o":0.8,"p":3},{"d":"2011-02-21","s":1.0,"o":0.7,"p":12},
{"d":"2011-03-01","s":1.0,"o":0.7,"p":5},{"d":"2011-03-11","s":1.0,"o":0.7,"p":10},{"d":"2011-03-21","s":1.0,"o":0.7,"p":7},
{"d":"2011-04-01","s":1.0,"o":0.7,"p":14},{"d":"2011-04-11","s":1.0,"o":0.7,"p":21},{"d":"2011-04-21","s":1.2,"o":0.8,"p":9},
{"d":"2011-05-01","s":1.6,"o":1.8,"p":15},{"d":"2011-05-11","s":2.1,"o":3.2,"p":23},{"d":"2011-05-21","s":2.5,"o":2.2,"p":12},
{"d":"2011-06-01","s":3.2,"o":3.0,"p":17},{"d":"2011-06-11","s":3.8,"o":4.7,"p":10},{"d":"2011-06-21","s":4.5,"o":9.1,"p":20},
{"d":"2011-07-01","s":6.0,"o":8.1,"p":13},{"d":"2011-07-11","s":6.7,"o":5.9,"p":18},{"d":"2011-07-21","s":7.3,"o":8.5,"p":8},
{"d":"2011-08-01","s":7.6,"o":9.8,"p":14},{"d":"2011-08-11","s":6.8,"o":6.1,"p":11},{"d":"2011-08-21","s":5.8,"o":5.3,"p":6},
{"d":"2011-09-01","s":4.8,"o":4.2,"p":12},{"d":"2011-09-11","s":4.0,"o":3.6,"p":3},{"d":"2011-09-21","s":3.4,"o":3.2,"p":9},
{"d":"2011-10-01","s":3.1,"o":3.0,"p":2},{"d":"2011-10-11","s":2.7,"o":2.6,"p":7},{"d":"2011-10-21","s":2.3,"o":2.3,"p":1},
{"d":"2011-11-01","s":2.0,"o":2.0,"p":16},{"d":"2011-11-11","s":1.8,"o":1.8,"p":3},{"d":"2011-11-21","s":1.6,"o":1.6,"p":6},
{"d":"2011-12-01","s":1.4,"o":1.4,"p":1},{"d":"2011-12-11","s":1.3,"o":1.3,"p":16},{"d":"2011-12-21","s":1.2,"o":1.1,"p":2},
{"d":"2012-01-01","s":1.1,"o":1.0,"p":4},{"d":"2012-01-11","s":1.1,"o":0.9,"p":0},{"d":"2012-01-21","s":1.0,"o":0.8,"p":7},
{"d":"2012-02-01","s":1.0,"o":0.7,"p":2},{"d":"2012-02-11","s":1.0,"o":0.7,"p":13.6},{"d":"2012-02-21","s":1.0,"o":0.7,"p":4},
{"d":"2012-03-01","s":1.0,"o":0.7,"p":9},{"d":"2012-03-11","s":1.0,"o":0.7,"p":3},{"d":"2012-03-21","s":1.0,"o":0.7,"p":15},
{"d":"2012-04-01","s":1.0,"o":0.7,"p":6},{"d":"2012-04-11","s":1.0,"o":0.7,"p":11},{"d":"2012-04-21","s":1.0,"o":0.8,"p":8},
{"d":"2012-05-01","s":1.2,"o":1.0,"p":14},{"d":"2012-05-11","s":1.5,"o":1.2,"p":10},{"d":"2012-05-21","s":2.0,"o":1.9,"p":16},
{"d":"2012-06-01","s":3.0,"o":2.5,"p":12},{"d":"2012-06-11","s":3.8,"o":3.2,"p":18},{"d":"2012-06-21","s":5.8,"o":7.8,"p":33},
{"d":"2012-07-01","s":6.8,"o":6.1,"p":14},{"d":"2012-07-11","s":7.5,"o":7.3,"p":9},{"d":"2012-07-21","s":7.0,"o":7.7,"p":15},
{"d":"2012-08-01","s":7.8,"o":5.5,"p":11},{"d":"2012-08-11","s":8.0,"o":7.5,"p":8},{"d":"2012-08-21","s":8.9,"o":6.3,"p":12}
]
},
"vconcat":[
{"hconcat":[
{"width":459,"height":199,"data":{"name":"t1"},
 "title":{"text":"р. Турген - с. Таутурген"},
 "encoding":{"x":{"field":"d","type":"temporal","scale":{"type":"utc","domain":["2008-09-01","2013-09-04"]},
   "axis":{"title":"Дата","format":"%Y%m%d","labelOverlap":false,"labelFont":"Liberation Serif","values":["2008-09-01","2008-10-30","2008-12-28","2009-02-25","2009-04-25","2009-06-23","2009-08-21","2009-10-19","2009-12-17","2010-02-14","2010-04-14","2010-06-12","2010-08-10","2010-10-08","2010-12-06","2011-02-03","2011-04-03","2011-06-01","2011-07-30","2011-09-27","2011-11-25","2012-01-23","2012-03-22","2012-05-20","2012-07-18","2012-09-15","2012-11-13","2013-01-11","2013-03-11","2013-05-09","2013-07-07"]}}},
 "layer":[
  {"mark":{"type":"bar","size":1.6,"clip":true},
   "encoding":{
    "y":{"field":"p","type":"quantitative","scale":{"domain":[0,40],"nice":false},"axis":{"orient":"right","title":"P,  мм","labelFont":"Liberation Serif","labelOverlap":false,"values":[0,5,10,15,20,25,30,35,40]}},
    "color":{"datum":"1","scale":{"domain":["1","2","3"],"range":["#93b650","#c8282e","#36a9d0"]},"legend":{"title":null,"orient":"none","legendX":400,"legendY":15,"rowPadding":6,"symbolStrokeWidth":{"expr":"datum.value==='1'?6:1.5"},"symbolDash":{"expr":"datum.value==='2'?[4,3]:[1,0]"}}}}},
  {"layer":[
   {"mark":{"type":"line","clip":true},
    "encoding":{
     "y":{"field":"o","type":"quantitative","scale":{"domain":[0,40],"nice":false},"axis":{"orient":"left","title":"Q, м³/с","labelFont":"Liberation Serif","labelOverlap":false,"values":[0,5,10,15,20,25,30,35,40]}},
     "strokeWidth":{"value":1.2},"color":{"datum":"3"}}},
   {"mark":{"type":"line","clip":true},
    "encoding":{
     "y":{"field":"s","type":"quantitative","scale":{"domain":[0,40],"nice":false},"axis":{"orient":"left","title":"Q, м³/с","labelFont":"Liberation Serif","labelOverlap":false,"values":[0,5,10,15,20,25,30,35,40]}},
     "strokeWidth":{"value":1.5},"strokeDash":{"value":[4,3]},"color":{"datum":"2"}}}
  ]}
 ],
 "resolve":{"scale":{"y":"independent"}}},
{"width":420,"height":196,"data":{"name":"t2"},
 "title":{"text":"р. Каскелен - г. Каскелен"},
 "encoding":{"x":{"field":"d","type":"temporal","scale":{"type":"utc","domain":["2012-09-01","2016-08-25"]},
   "axis":{"title":"Дата","format":"%Y%m%d","labelOverlap":false,"labelFont":"Liberation Serif","values":["2012-09-01","2012-10-19","2012-12-06","2013-01-23","2013-03-12","2013-04-29","2013-06-16","2013-08-03","2013-09-20","2013-11-07","2013-12-25","2014-02-11","2014-03-31","2014-05-18","2014-07-05","2014-08-22","2014-10-09","2014-11-26","2015-01-13","2015-03-02","2015-04-19","2015-06-06","2015-07-24","2015-09-10","2015-10-28","2015-12-15","2016-02-01","2016-03-20","2016-05-07","2016-06-24","2016-08-11"]}}},
 "layer":[
  {"mark":{"type":"bar","size":1.6,"clip":true},
   "encoding":{
    "y":{"field":"p","type":"quantitative","scale":{"domain":[0,70],"nice":false},"axis":{"orient":"right","title":"P, мм","labelFont":"Liberation Serif","labelOverlap":false,"values":[0,10,20,30,40,50,60,70]}},
    "color":{"datum":"1","scale":{"domain":["1","2","3"],"range":["#93b650","#c8282e","#36a9d0"]},"legend":{"title":null,"orient":"none","legendX":337,"legendY":29,"rowPadding":6,"symbolStrokeWidth":{"expr":"datum.value==='1'?6:1.5"},"symbolDash":{"expr":"datum.value==='2'?[4,3]:[1,0]"}}}}},
  {"layer":[
   {"mark":{"type":"line","clip":true},
    "encoding":{
     "y":{"field":"o","type":"quantitative","scale":{"domain":[0,25],"nice":false},"axis":{"orient":"left","title":"Q, м³/с","labelFont":"Liberation Serif","labelOverlap":false,"labelPadding":10,"values":[0,5,10,15,20,25]}},
     "strokeWidth":{"value":1.2},"color":{"datum":"3"}}},
   {"mark":{"type":"line","clip":true},
    "encoding":{
     "y":{"field":"s","type":"quantitative","scale":{"domain":[0,25],"nice":false},"axis":{"orient":"left","title":"Q, м³/с","labelFont":"Liberation Serif","labelOverlap":false,"labelPadding":10,"values":[0,5,10,15,20,25]}},
     "strokeWidth":{"value":1.5},"strokeDash":{"value":[4,3]},"color":{"datum":"2"}}}
  ]}
 ],
 "resolve":{"scale":{"y":"independent"}}}
],"spacing":22,"resolve":{"scale":{"color":"independent"},"legend":{"color":"independent"}}},
{"hconcat":[
{"width":453,"height":207,"data":{"name":"t3"},
 "title":{"text":"р. Талгар - г. Талгар","fontSize":21,"offset":-17},
 "encoding":{"x":{"field":"d","type":"temporal","scale":{"type":"utc","domain":["2008-09-01","2013-08-21"]},
   "axis":{"title":"Дата","format":"%Y%m%d","labelOverlap":false,"labelFont":"Liberation Serif","values":["2008-09-01","2008-10-30","2008-12-28","2009-02-25","2009-04-25","2009-06-23","2009-08-21","2009-10-19","2009-12-17","2010-02-14","2010-04-14","2010-06-12","2010-08-10","2010-10-08","2010-12-06","2011-02-03","2011-04-03","2011-06-01","2011-07-30","2011-09-27","2011-11-25","2012-01-23","2012-03-22","2012-05-20","2012-07-18","2012-09-15","2012-11-13","2013-01-11","2013-03-11","2013-05-09","2013-07-07"]}}},
 "layer":[
  {"mark":{"type":"bar","size":1.6,"clip":true},
   "encoding":{
    "y":{"field":"p","type":"quantitative","scale":{"domain":[0,70],"nice":false},"axis":{"orient":"right","title":"P, мм","labelFont":"Liberation Serif","labelOverlap":false,"values":[0,10,20,30,40,50,60,70]}},
    "color":{"datum":"1","scale":{"domain":["1","2","3"],"range":["#93b650","#c8282e","#36a9d0"]},"legend":{"title":null,"orient":"none","legendX":383,"legendY":11,"rowPadding":3,"symbolStrokeWidth":{"expr":"datum.value==='1'?6:1.5"},"symbolDash":{"expr":"datum.value==='2'?[4,3]:[1,0]"}}}}},
  {"layer":[
   {"mark":{"type":"line","clip":true},
    "encoding":{
     "y":{"field":"o","type":"quantitative","scale":{"domain":[0,45],"nice":false},"axis":{"orient":"left","title":"Q, м³/с","labelFont":"Liberation Serif","labelOverlap":false,"labelPadding":6,"values":[0,5,10,15,20,25,30,35,40,45]}},
     "strokeWidth":{"value":1.2},"color":{"datum":"3"}}},
   {"mark":{"type":"line","clip":true},
    "encoding":{
     "y":{"field":"s","type":"quantitative","scale":{"domain":[0,45],"nice":false},"axis":{"orient":"left","title":"Q, м³/с","labelFont":"Liberation Serif","labelOverlap":false,"labelPadding":6,"values":[0,5,10,15,20,25,30,35,40,45]}},
     "strokeWidth":{"value":1.5},"strokeDash":{"value":[4,3]},"color":{"datum":"2"}}}
  ]}
 ],
 "resolve":{"scale":{"y":"independent"}}},
{"width":420,"height":207,"data":{"name":"t4"},
 "title":{"text":["р. Улькен Алматы - в 1,1 км выше оз. Улькен","Алматы"],"fontSize":17,"lineHeight":19,"offset":-35},
 "encoding":{"x":{"field":"d","type":"temporal","scale":{"type":"utc","domain":["2008-09-01","2012-08-21"]},
   "axis":{"title":"Дата","format":"%Y%m%d","labelOverlap":false,"labelFont":"Liberation Serif","values":["2008-09-01","2008-10-19","2008-12-06","2009-01-23","2009-03-12","2009-04-29","2009-06-16","2009-08-03","2009-09-20","2009-11-07","2009-12-25","2010-02-11","2010-03-31","2010-05-18","2010-07-05","2010-08-22","2010-10-09","2010-11-26","2011-01-13","2011-03-02","2011-04-19","2011-06-06","2011-07-24","2011-09-10","2011-10-28","2011-12-15","2012-02-01","2012-03-20","2012-05-07","2012-06-24","2012-08-11"]}}},
 "layer":[
  {"mark":{"type":"bar","size":1.6,"clip":true},
   "encoding":{
    "y":{"field":"p","type":"quantitative","scale":{"domain":[0,36.9],"nice":false},"axis":{"orient":"right","title":"P, мм","labelFont":"Liberation Serif","labelOverlap":false,"values":[0,5,10,15,20,25,30,35]}},
    "color":{"datum":"1","scale":{"domain":["1","2","3"],"range":["#93b650","#c8282e","#36a9d0"]},"legend":{"title":null,"orient":"none","legendX":350,"legendY":30,"rowPadding":-3,"labelFontSize":14,"symbolSize":150,"symbolStrokeWidth":{"expr":"datum.value==='1'?5:1.5"},"symbolDash":{"expr":"datum.value==='2'?[4,3]:[1,0]"}}}}},
  {"layer":[
   {"mark":{"type":"line","clip":true},
    "encoding":{
     "y":{"field":"o","type":"quantitative","scale":{"domain":[0,12.65],"nice":false},"axis":{"orient":"left","title":"Q, м³/с","labelFont":"Liberation Serif","labelOverlap":false,"titleX":-14,"labelPadding":10,"values":[0,2,4,6,8,10,12]}},
     "strokeWidth":{"value":1.2},"color":{"datum":"3"}}},
   {"mark":{"type":"line","clip":true},
    "encoding":{
     "y":{"field":"s","type":"quantitative","scale":{"domain":[0,12.65],"nice":false},"axis":{"orient":"left","title":"Q, м³/с","labelFont":"Liberation Serif","labelOverlap":false,"titleX":-14,"labelPadding":10,"values":[0,2,4,6,8,10,12]}},
     "strokeWidth":{"value":1.5},"strokeDash":{"value":[4,3]},"color":{"datum":"2"}}}
  ]}
 ],
 "resolve":{"scale":{"y":"independent"}}}
],"spacing":24,"resolve":{"scale":{"color":"independent"},"legend":{"color":"independent"}}}
]
}
